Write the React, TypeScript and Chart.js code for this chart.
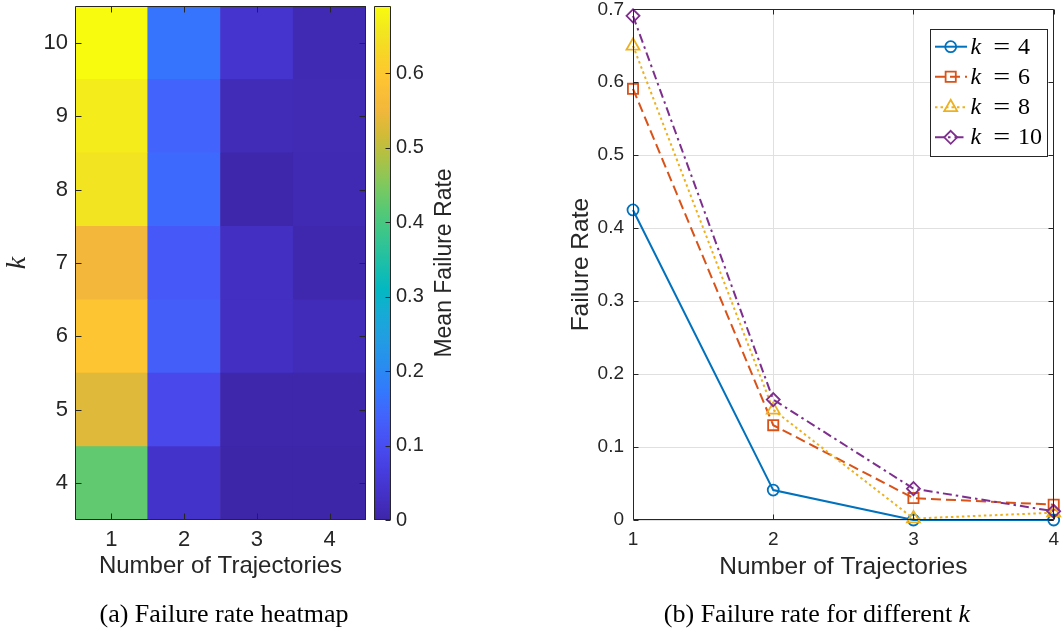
import React, { useEffect, useRef } from 'react';
import { Chart, registerables } from 'chart.js';

Chart.register(...registerables);

// ---------------- data ----------------
const kValues = [4, 5, 6, 7, 8, 9, 10];
const trajLabels = ['1', '2', '3', '4'];
// mean failure rate per k (rows k=4..10) for each number of trajectories
const heatTraj1 = [0.425, 0.531, 0.592, 0.553, 0.652, 0.665, 0.69];
const heatTraj2 = [0.04, 0.09, 0.13, 0.12, 0.15, 0.14, 0.166];
const heatTraj3 = [0.0, 0.004, 0.03, 0.028, 0.002, 0.018, 0.043];
const heatTraj4 = [0.0, 0.004, 0.02, 0.006, 0.012, 0.015, 0.012];
const colorbarTicks = [0, 0.1, 0.2, 0.3, 0.4, 0.5, 0.6];

const trajectories = [1, 2, 3, 4];
const failK4 = [0.425, 0.041, 0.0, 0.0];
const failK6 = [0.591, 0.13, 0.03, 0.021];
const failK8 = [0.65, 0.151, 0.002, 0.01];
const failK10 = [0.691, 0.165, 0.043, 0.012];
const lineYTicks = [0, 0.1, 0.2, 0.3, 0.4, 0.5, 0.6, 0.7];
const legendLabels = ['4', '6', '8', '10'];

// ---------------- styles ----------------
const AXIS_TEXT = '#262626';
const SANS = "'Liberation Sans', Arial, Helvetica, sans-serif";
const SERIF = "'Liberation Serif', 'Times New Roman', serif";

const PARULA: [number, number, number, number][] = [
  [0.0, 62, 38, 168],
  [0.05, 68, 49, 199],
  [0.1, 71, 62, 224],
  [0.15, 72, 79, 242],
  [0.2, 67, 98, 252],
  [0.25, 51, 120, 254],
  [0.3, 41, 140, 240],
  [0.35, 34, 156, 227],
  [0.4, 23, 170, 214],
  [0.45, 3, 184, 193],
  [0.5, 28, 191, 168],
  [0.55, 55, 197, 142],
  [0.6, 84, 201, 118],
  [0.65, 125, 201, 95],
  [0.7, 170, 194, 70],
  [0.75, 210, 187, 55],
  [0.8, 243, 183, 60],
  [0.85, 254, 194, 52],
  [0.9, 249, 210, 40],
  [0.95, 242, 230, 32],
  [1.0, 249, 251, 14],
];

function parula(t: number): string {
  const v = Math.max(0, Math.min(1, t));
  for (let i = 1; i < PARULA.length; i++) {
    const [t1, r1, g1, b1] = PARULA[i];
    const [t0, r0, g0, b0] = PARULA[i - 1];
    if (v <= t1) {
      const f = (v - t0) / (t1 - t0);
      return `rgb(${Math.round(r0 + (r1 - r0) * f)},${Math.round(g0 + (g1 - g0) * f)},${Math.round(b0 + (b1 - b0) * f)})`;
    }
  }
  const l = PARULA[PARULA.length - 1];
  return `rgb(${l[1]},${l[2]},${l[3]})`;
}

const heatColumns = [heatTraj1, heatTraj2, heatTraj3, heatTraj4];
const cmax = Math.max(...heatTraj1, ...heatTraj2, ...heatTraj3, ...heatTraj4);

const SERIES = [
  { data: failK4, color: 'rgb(0,114,189)', dash: [] as number[], style: 'circle', radius: 5.5 },
  { data: failK6, color: 'rgb(217,83,25)', dash: [10, 5], style: 'rect', radius: 7.2 },
  { data: failK8, color: 'rgb(237,177,32)', dash: [2.5, 3], style: 'triangle', radius: 7.5 },
  { data: failK10, color: 'rgb(126,47,142)', dash: [9, 4, 2.5, 4], style: 'rectRot', radius: 6.5 },
];

function fixSize(prop: 'width' | 'height', size: number) {
  return (s: any) => {
    s[prop] = size;
    s.paddingLeft = 0;
    s.paddingRight = 0;
    s.paddingTop = 0;
    s.paddingBottom = 0;
  };
}

// ---------------- plugins ----------------
const boxTicks = {
  id: 'boxTicks',
  afterDatasetsDraw(chart: any, _args: any, opts: any) {
    const { ctx, chartArea: a } = chart;
    ctx.save();
    ctx.strokeStyle = opts.color || AXIS_TEXT;
    ctx.lineWidth = 1;
    const L = Math.round(a.left) + 0.5;
    const R = Math.round(a.right) - 0.5;
    const T = Math.round(a.top) + 0.5;
    const B = Math.round(a.bottom) - 0.5;
    const len = opts.len ?? 5;
    ctx.beginPath();
    ctx.rect(L, T, R - L, B - T);
    const xs = chart.scales.x;
    const ys = chart.scales.y;
    if (opts.xTicks) {
      xs.ticks.forEach((_: any, i: number) => {
        const p = Math.round(xs.getPixelForTick(i)) + 0.5;
        ctx.moveTo(p, B);
        ctx.lineTo(p, B - len);
        ctx.moveTo(p, T);
        ctx.lineTo(p, T + len);
      });
    }
    if (opts.yLeft || opts.yRight) {
      ys.ticks.forEach((_: any, i: number) => {
        const p = Math.round(ys.getPixelForTick(i)) + 0.5;
        if (opts.yLeft) {
          ctx.moveTo(L, p);
          ctx.lineTo(L + len, p);
        }
        if (opts.yRight) {
          ctx.moveTo(R, p);
          ctx.lineTo(R - len, p);
        }
      });
    }
    ctx.stroke();
    ctx.restore();
  },
};

const rotatedTitle = {
  id: 'rotatedTitle',
  afterDraw(chart: any, _args: any, opts: any) {
    if (!opts || !opts.text) return;
    const { ctx, chartArea: a } = chart;
    ctx.save();
    ctx.fillStyle = AXIS_TEXT;
    ctx.font = `${opts.size}px ${SANS}`;
    ctx.textAlign = 'center';
    ctx.textBaseline = 'alphabetic';
    ctx.translate(opts.x, (a.top + a.bottom) / 2);
    ctx.rotate(-Math.PI / 2);
    ctx.fillText(opts.text, 0, 0);
    ctx.restore();
  },
};

function drawMarker(ctx: CanvasRenderingContext2D, style: string, r: number, x: number, y: number) {
  ctx.beginPath();
  if (style === 'circle') {
    ctx.arc(x, y, r, 0, Math.PI * 2);
  } else if (style === 'rect') {
    const s = Math.SQRT1_2 * r;
    ctx.rect(x - s, y - s, 2 * s, 2 * s);
  } else if (style === 'triangle') {
    let rad = 0;
    ctx.moveTo(x + Math.sin(rad) * r, y - Math.cos(rad) * r);
    rad += (2 * Math.PI) / 3;
    ctx.lineTo(x + Math.sin(rad) * r, y - Math.cos(rad) * r);
    rad += (2 * Math.PI) / 3;
    ctx.lineTo(x + Math.sin(rad) * r, y - Math.cos(rad) * r);
    ctx.closePath();
  } else {
    ctx.moveTo(x, y - r);
    ctx.lineTo(x + r, y);
    ctx.lineTo(x, y + r);
    ctx.lineTo(x - r, y);
    ctx.closePath();
  }
  ctx.stroke();
}

const mathLegend = {
  id: 'mathLegend',
  afterDraw(chart: any) {
    const { ctx } = chart;
    const bx = 370.5, by = 29.5, bw = 117, bh = 127;
    const rows = [46.7, 76.7, 107.3, 137.3];
    ctx.save();
    ctx.fillStyle = '#ffffff';
    ctx.fillRect(bx, by, bw, bh);
    ctx.strokeStyle = AXIS_TEXT;
    ctx.lineWidth = 1;
    ctx.strokeRect(bx, by, bw, bh);
    SERIES.forEach((s, i) => {
      const y = rows[i];
      ctx.strokeStyle = s.color;
      ctx.lineWidth = 2;
      ctx.setLineDash(s.dash);
      ctx.beginPath();
      ctx.moveTo(375, y);
      ctx.lineTo(407, y);
      ctx.stroke();
      ctx.setLineDash([]);
      ctx.lineWidth = 1.8;
      drawMarker(ctx, s.style, s.radius, 390.7, y);
      ctx.fillStyle = '#000';
      ctx.textBaseline = 'alphabetic';
      ctx.textAlign = 'left';
      ctx.font = `italic 24px ${SERIF}`;
      ctx.fillText('k', 410.5, y + 7);
      ctx.textAlign = 'center';
      ctx.font = `24px ${SERIF}`;
      ctx.save();
      ctx.translate(441.7, y + 7);
      ctx.scale(1.25, 1);
      ctx.fillText('=', 0, 0);
      ctx.restore();
      ctx.textAlign = 'left';
      ctx.fillText(legendLabels[i], 458, y + 7);
    });
    ctx.restore();
  },
};

// ---------------- component ----------------
export default function App() {
  const heatRef = useRef<HTMLCanvasElement | null>(null);
  const barRef = useRef<HTMLCanvasElement | null>(null);
  const lineRef = useRef<HTMLCanvasElement | null>(null);

  useEffect(() => {
    const charts: Chart[] = [];

    // ---- heatmap ----
    if (heatRef.current) {
      charts.push(
        new Chart(heatRef.current, {
          type: 'bar',
          data: {
            labels: trajLabels,
            datasets: kValues.map((k, ri) => ({
              label: `k=${k}`,
              data: heatColumns.map(() => [k - 0.5, k + 0.5]) as any,
              backgroundColor: heatColumns.map((col) => parula(col[ri] / cmax)),
              borderWidth: 0,
              grouped: false,
              barPercentage: 1,
              categoryPercentage: 1,
            })),
          },
          options: {
            responsive: false,
            animation: false,
            devicePixelRatio: 1,
            layout: { padding: { top: 6, right: 6, left: 0, bottom: 0 } },
            plugins: {
              legend: { display: false },
              tooltip: { enabled: false },
              boxTicks: { xTicks: true, yLeft: true, yRight: true, len: 6 },
            } as any,
            scales: {
              x: {
                type: 'category',
                grid: { display: false, drawTicks: false },
                border: { display: false },
                ticks: { color: AXIS_TEXT, font: { family: SANS, size: 22 }, padding: 7 },
                title: {
                  display: true,
                  text: 'Number of Trajectories',
                  color: AXIS_TEXT,
                  font: { family: SANS, size: 24 },
                  padding: { top: 0, bottom: 19.6 },
                },
                afterFit: fixSize('height', 80),
              },
              y: {
                type: 'linear',
                min: 3.5,
                max: 10.5,
                grid: { display: false, drawTicks: false },
                border: { display: false },
                afterBuildTicks: (s: any) => {
                  s.ticks = kValues.map((v) => ({ value: v }));
                },
                ticks: {
                  color: AXIS_TEXT,
                  font: { family: SANS, size: 22 },
                  padding: 7,
                  callback: (v: any) => String(v),
                },
                title: {
                  display: true,
                  text: 'k',
                  color: AXIS_TEXT,
                  font: { family: SERIF, size: 28, style: 'italic' },
                  padding: { top: 1, bottom: 0 },
                },
                afterFit: fixSize('width', 75),
              },
            },
          },
          plugins: [boxTicks],
        } as any)
      );
    }

    // ---- colorbar ----
    if (barRef.current) {
      charts.push(
        new Chart(barRef.current, {
          type: 'bar',
          data: {
            labels: ['cb'],
            datasets: [
              {
                data: [[0, cmax]] as any,
                borderWidth: 0,
                barPercentage: 1,
                categoryPercentage: 1,
                backgroundColor: (c: any) => {
                  const chart = c.chart;
                  const ys = chart.scales && chart.scales.y;
                  if (!chart.chartArea || !ys) return parula(0.5);
                  const g = chart.ctx.createLinearGradient(0, ys.getPixelForValue(0), 0, ys.getPixelForValue(cmax));
                  PARULA.forEach(([t, r, gg, b]) => g.addColorStop(t, `rgb(${r},${gg},${b})`));
                  return g;
                },
              },
            ],
          },
          options: {
            responsive: false,
            animation: false,
            devicePixelRatio: 1,
            layout: { padding: { top: 6, right: 0, left: 2, bottom: 80 } },
            plugins: {
              legend: { display: false },
              tooltip: { enabled: false },
              boxTicks: { xTicks: false, yLeft: false, yRight: true, len: 5 },
              rotatedTitle: { text: 'Mean Failure Rate', size: 23, x: 79 },
            } as any,
            scales: {
              x: { type: 'category', display: false, offset: true },
              y: {
                type: 'linear',
                position: 'right',
                min: 0,
                max: cmax,
                grid: { display: false, drawTicks: false },
                border: { display: false },
                afterBuildTicks: (s: any) => {
                  s.ticks = colorbarTicks.map((v) => ({ value: v }));
                },
                ticks: {
                  color: AXIS_TEXT,
                  font: { family: SANS, size: 20 },
                  padding: 5,
                  callback: (v: any) => String(Math.round(Number(v) * 10) / 10),
                },
                afterFit: fixSize('width', 81),
              },
            },
          },
          plugins: [boxTicks, rotatedTitle],
        } as any)
      );
    }

    // ---- line chart ----
    if (lineRef.current) {
      charts.push(
        new Chart(lineRef.current, {
          type: 'line',
          data: {
            labels: trajectories,
            datasets: SERIES.map((s, i) => ({
              label: `k=${legendLabels[i]}`,
              data: trajectories.map((x, j) => ({ x, y: s.data[j] })),
              borderColor: s.color,
              borderWidth: 2,
              borderDash: s.dash,
              pointStyle: s.style,
              pointRadius: s.radius,
              pointBorderWidth: 1.8,
              pointBorderColor: s.color,
              pointBackgroundColor: 'rgba(0,0,0,0)',
              fill: false,
              tension: 0,
              clip: false,
              order: SERIES.length - i,
            })),
          },
          options: {
            responsive: false,
            animation: false,
            devicePixelRatio: 1,
            layout: { padding: { top: 7, right: 3, left: 0, bottom: 0 } },
            plugins: {
              legend: { display: false },
              tooltip: { enabled: false },
              boxTicks: { xTicks: true, yLeft: true, yRight: true, len: 5 },
            } as any,
            scales: {
              x: {
                type: 'linear',
                min: 1,
                max: 4,
                grid: { color: '#e0e0e0', drawTicks: false },
                border: { display: false },
                afterBuildTicks: (s: any) => {
                  s.ticks = trajectories.map((v) => ({ value: v }));
                },
                ticks: {
                  color: AXIS_TEXT,
                  font: { family: SANS, size: 19 },
                  padding: 8.5,
                  callback: (v: any) => String(v),
                },
                title: {
                  display: true,
                  text: 'Number of Trajectories',
                  color: AXIS_TEXT,
                  font: { family: SANS, size: 24.5 },
                  padding: { top: 0, bottom: 18.3 },
                },
                afterFit: fixSize('height', 80),
              },
              y: {
                type: 'linear',
                min: 0,
                max: 0.7,
                grid: { color: '#e0e0e0', drawTicks: false },
                border: { display: false },
                afterBuildTicks: (s: any) => {
                  s.ticks = lineYTicks.map((v) => ({ value: v }));
                },
                ticks: {
                  color: AXIS_TEXT,
                  font: { family: SANS, size: 19 },
                  padding: 9,
                  callback: (v: any) => String(Math.round(Number(v) * 10) / 10),
                },
                title: {
                  display: true,
                  text: 'Failure Rate',
                  color: AXIS_TEXT,
                  font: { family: SANS, size: 24.5 },
                  padding: { top: 7, bottom: 0 },
                },
                afterFit: fixSize('width', 73),
              },
            },
          },
          plugins: [boxTicks, mathLegend],
        } as any)
      );
    }

    return () => {
      charts.forEach((c) => c.destroy());
    };
  }, []);

  return (
    <div
      style={{
        position: 'absolute',
        left: 0,
        top: 0,
        width: 1063,
        height: 630,
        background: '#ffffff',
        overflow: 'hidden',
      }}
    >
      <canvas ref={heatRef} width={372} height={600} style={{ position: 'absolute', left: 0, top: 0, width: 372, height: 600 }} />
      <canvas ref={barRef} width={100} height={600} style={{ position: 'absolute', left: 372, top: 0, width: 100, height: 600 }} />
      <canvas ref={lineRef} width={503} height={600} style={{ position: 'absolute', left: 560, top: 0, width: 503, height: 600 }} />
      <div
        style={{
          position: 'absolute',
          left: 0,
          top: 601,
          width: 448,
          textAlign: 'center',
          fontFamily: SERIF,
          fontSize: 26,
          lineHeight: '26px',
          color: '#000',
          whiteSpace: 'nowrap',
        }}
      >
        (a) Failure rate heatmap
      </div>
      <div
        style={{
          position: 'absolute',
          left: 617,
          top: 601,
          width: 400,
          textAlign: 'center',
          fontFamily: SERIF,
          fontSize: 26,
          lineHeight: '26px',
          color: '#000',
          whiteSpace: 'nowrap',
        }}
      >
        (b) Failure rate for different <i>k</i>
      </div>
    </div>
  );
}
